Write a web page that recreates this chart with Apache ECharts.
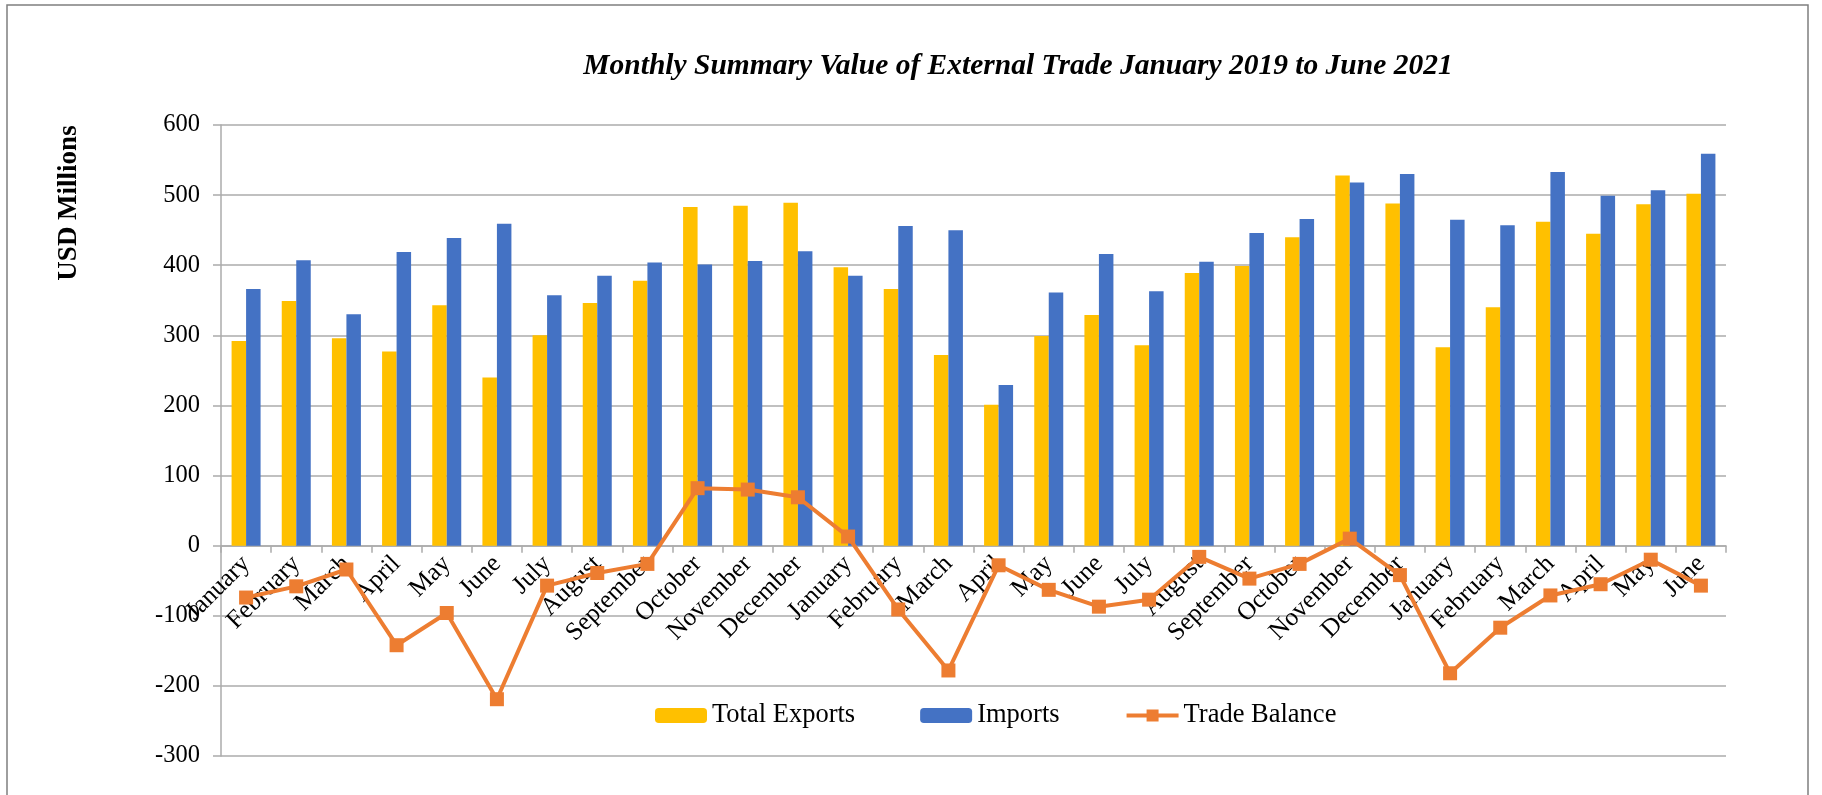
<!DOCTYPE html>
<html>
<head>
<meta charset="utf-8">
<script src="https://cdn.jsdelivr.net/npm/echarts@6/dist/echarts.min.js"></script>
<style>
  html, body { margin: 0; padding: 0; background: #fff; }
  #chart { width: 1822px; height: 795px; }
</style>
</head>
<body>
<div id="chart"></div>
<script>
// months Jan 2019 .. Jun 2021
const months = ['January', 'February', 'March', 'April', 'May', 'June', 'July', 'August',
  'September', 'October', 'November', 'December',
  'January', 'February', 'March', 'April', 'May', 'June', 'July', 'August',
  'September', 'October', 'November', 'December',
  'January', 'February', 'March', 'April', 'May', 'June'];

const totalExports = [292, 349, 296, 277, 343, 240, 300, 346, 378, 483, 485, 489,
  397, 366, 272, 201, 299, 329, 286, 389, 399, 440, 528, 488,
  283, 340, 462, 445, 487, 502];

const imports = [366, 407, 330, 419, 439, 459, 357, 385, 404, 401, 406, 420,
  385, 456, 450, 229, 361, 416, 363, 405, 446, 466, 518, 530,
  465, 457, 533, 499, 507, 559];

const tradeBalance = [-74, -58, -34, -142, -96, -219, -57, -39, -26, 82, 80, 69,
  13, -91, -178, -28, -63, -87, -77, -16, -47, -26, 10, -42,
  -182, -117, -71, -55, -20, -57];

const yTicks = { min: -300, max: 600, step: 100 };

const serif = '"Liberation Serif", "Times New Roman", serif';
const gridGray = '#ABABAB';

const chart = echarts.init(document.getElementById('chart'));

chart.setOption({
  animation: false,
  backgroundColor: '#fff',
  textStyle: { fontFamily: serif, color: '#000' },
  title: {
    text: 'Monthly Summary Value of External Trade January 2019 to June 2021',
    left: 1013,
    top: 46,
    textAlign: 'center',
    textStyle: { fontFamily: serif, fontSize: 29.5, fontWeight: 'bold', fontStyle: 'italic', color: '#000' }
  },
  graphic: [
    {
      type: 'rect',
      shape: { x: 7, y: 5, width: 1801, height: 800 },
      style: { fill: 'none', stroke: '#7F7F7F', lineWidth: 1.5 },
      silent: true
    },
    {
      type: 'text',
      x: 69,
      y: 203,
      rotation: Math.PI / 2,
      style: {
        text: 'USD Millions',
        font: 'bold 27px ' + serif,
        fill: '#000',
        textAlign: 'center',
        textVerticalAlign: 'middle'
      }
    }
  ],
  legend: {
    left: 650,
    top: 697,
    itemWidth: 52,
    itemHeight: 15,
    itemGap: 65,
    textStyle: { fontFamily: serif, fontSize: 26.5, color: '#000' },
    lineStyle: { width: 4 },
    data: ['Total Exports', 'Imports', 'Trade Balance']
  },
  grid: { left: 221, right: 96, top: 125, bottom: 39, containLabel: false, outerBoundsMode: 'none' },
  xAxis: {
    type: 'category',
    data: months,
    axisLine: { onZero: true, lineStyle: { color: gridGray, width: 1.5 } },
    axisTick: { show: true, length: 7, lineStyle: { color: gridGray, width: 1.5 } },
    axisLabel: {
      interval: 0,
      rotate: 45,
      margin: -196,
      fontFamily: serif,
      fontSize: 25.5,
      color: '#000'
    }
  },
  yAxis: {
    type: 'value',
    min: yTicks.min,
    max: yTicks.max,
    interval: yTicks.step,
    axisLine: { show: true, lineStyle: { color: gridGray, width: 1.5 } },
    axisTick: { show: true, length: 8, lineStyle: { color: gridGray, width: 1.5 } },
    axisLabel: { fontFamily: serif, fontSize: 24.5, color: '#000', margin: 21 },
    splitLine: { lineStyle: { color: gridGray, width: 1.5 } }
  },
  series: [
    {
      name: 'Total Exports',
      type: 'bar',
      data: totalExports,
      barWidth: 14.5,
      barGap: '0%',
      itemStyle: { color: '#FFC000' }
    },
    {
      name: 'Imports',
      type: 'bar',
      data: imports,
      barWidth: 14.5,
      barGap: '0%',
      itemStyle: { color: '#4472C4' }
    },
    {
      name: 'Trade Balance',
      type: 'line',
      data: tradeBalance,
      symbol: 'rect',
      symbolSize: 14,
      z: 5,
      lineStyle: { color: '#ED7D31', width: 4 },
      itemStyle: { color: '#ED7D31' }
    }
  ]
});
</script>
</body>
</html>
